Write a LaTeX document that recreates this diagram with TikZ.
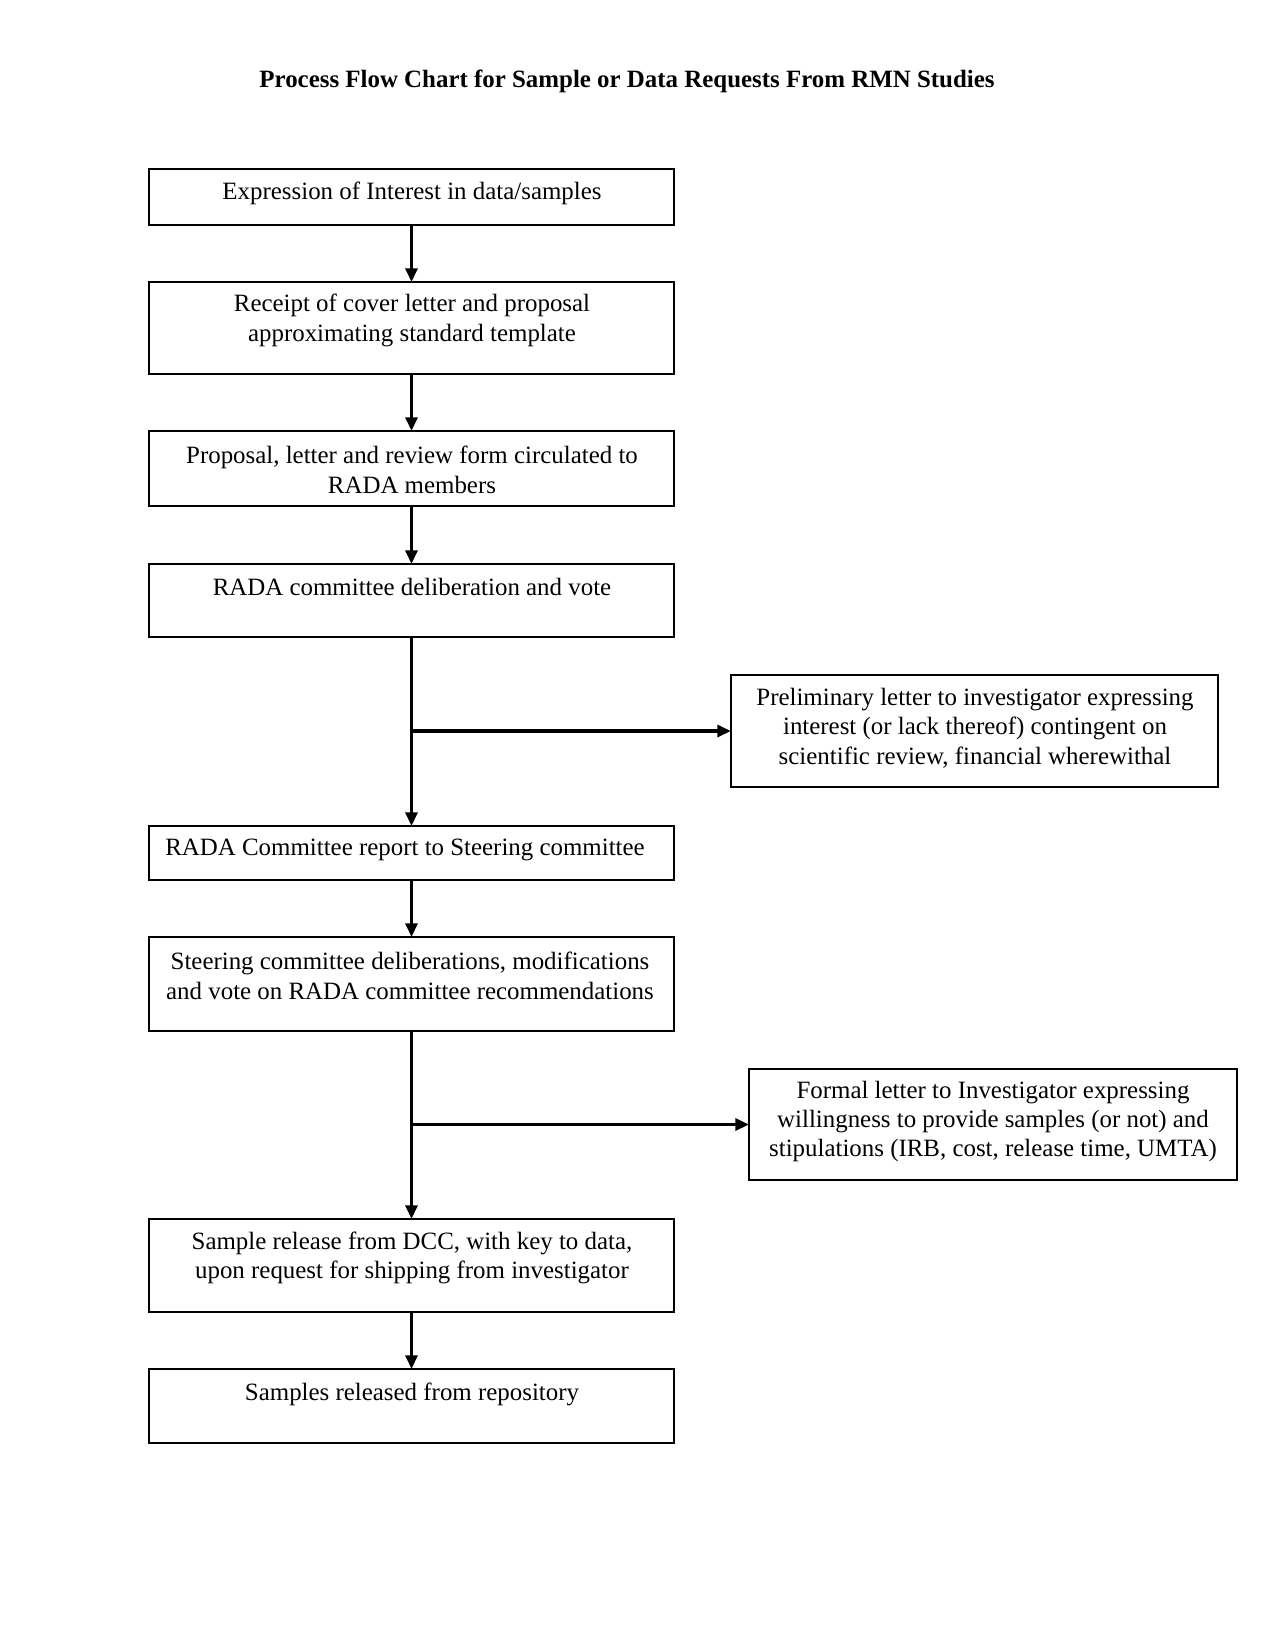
\documentclass[tikz,border=0pt]{standalone}
\usepackage{fontspec}
\setmainfont{Liberation Serif}
\usetikzlibrary{arrows.meta}
\begin{document}
\begin{tikzpicture}[x=0.16933mm,y=-0.16933mm,
  box/.style n args={2}{draw,line width=0.8pt,inner sep=0pt,outer sep=0pt,
     minimum width={#1*0.16933mm},minimum height={#2*0.16933mm}},
  txt/.style={align=center,inner sep=0pt,font=\fontsize{12}{14.2}\selectfont},
  flow/.style={line width=1.8pt,-{Triangle[length=2.3mm,width=2.0mm]}}]
\useasboundingbox (0,0) rectangle (1275,1650);
\node[font=\bfseries\fontsize{12}{14}\selectfont,inner sep=0pt] (title) at (627,81) {Process Flow Chart for Sample or Data Requests From RMN Studies};
% main boxes
\node[box={525}{56}] (b1) at (411.5,197) {};
\node[txt] (t1) at (412,193) {Expression of Interest in data/samples};
\node[box={525}{92}] (b2) at (411.5,328) {};
\node[txt] (t2) at (412,320.5) {Receipt of cover letter and proposal\\approximating standard template};
\node[box={525}{75}] (b3) at (411.5,468.5) {};
\node[txt] (t3) at (412,470) {Proposal, letter and review form circulated to\\RADA members};
\node[box={525}{73}] (b4) at (411.5,600.5) {};
\node[txt] (t4) at (412,587) {RADA committee deliberation and vote};
\node[box={487}{112}] (s1) at (974.5,731) {};
\node[txt] (ts1) at (975,728) {Preliminary letter to investigator expressing\\interest (or lack thereof) contingent on\\scientific review, financial wherewithal};
\node[box={525}{54}] (b5) at (411.5,853) {};
\node[txt] (t5) at (405,850) {RADA Committee report to Steering committee};
\node[box={525}{94}] (b6) at (411.5,984) {};
\node[txt] (t6) at (410,976) {Steering committee deliberations, modifications\\and vote on RADA committee recommendations};
\node[box={488}{111}] (s2) at (993,1124.5) {};
\node[txt] (ts2) at (993,1121.5) {Formal letter to Investigator expressing\\willingness to provide samples (or not) and\\stipulations (IRB, cost, release time, UMTA)};
\node[box={525}{93}] (b7) at (411.5,1265.5) {};
\node[txt] (t7) at (412,1258) {Sample release from DCC, with key to data,\\upon request for shipping from investigator};
\node[box={525}{74}] (b8) at (411.5,1406) {};
\node[txt] (t8) at (412,1394) {Samples released from repository};
% junctions on the trunk
\coordinate (j1) at (b4.south |- s1.west);
\coordinate (j2) at (b6.south |- s2.west);
% connectors
\draw[flow] (b1.south) -- (b2.north);
\draw[flow] (b2.south) -- (b3.north);
\draw[flow] (b3.south) -- (b4.north);
\draw[flow] (b4.south) -- (b5.north);
\draw[flow] (j1) -- (s1.west);
\draw[flow] (b5.south) -- (b6.north);
\draw[flow] (b6.south) -- (b7.north);
\draw[flow] (j2) -- (s2.west);
\draw[flow] (b7.south) -- (b8.north);
\end{tikzpicture}
\end{document}
